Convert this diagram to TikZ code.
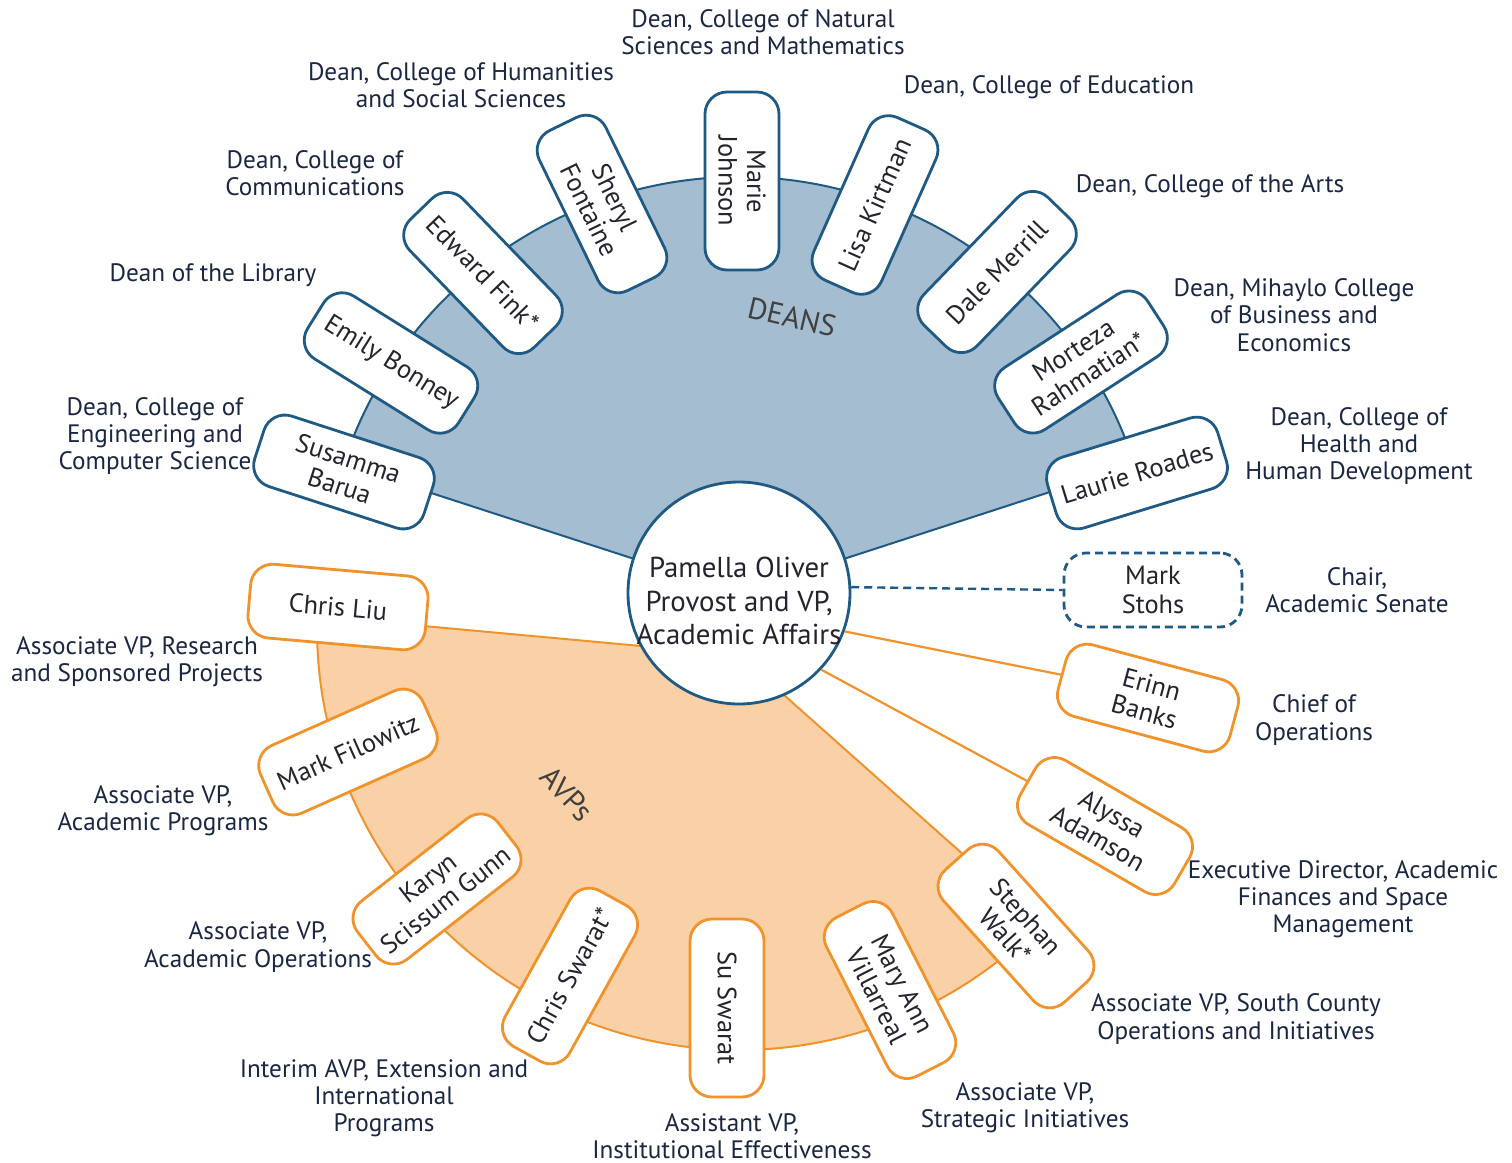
\documentclass[tikz,border=0pt]{standalone}
\usepackage{fontspec}
\setmainfont{PT Sans}
\definecolor{bstroke}{HTML}{1F5A85}
\definecolor{bfill}{HTML}{A5BDD1}
\definecolor{ostroke}{HTML}{F0932B}
\definecolor{ofill}{HTML}{FAD1A7}
\definecolor{namec}{HTML}{26222E}
\definecolor{rolec}{HTML}{1A2743}
\newcommand\nmfont{\fontsize{13.2}{14.2}\selectfont}
\newcommand\rlfont{\fontsize{12.6}{13.6}\selectfont}
\begin{document}
\begin{tikzpicture}[x=0.5pt,y=0.5pt,
  person/.style={draw, fill=white, rounded corners=11pt, minimum width=89pt,
    minimum height=37pt, align=center, line width=1.4pt, font=\nmfont,
    text=namec, inner sep=1.5pt},
  dean/.style={person, draw=bstroke},
  avp/.style={person, draw=ostroke},
  role/.style={align=center, font=\rlfont, text=rolec, inner sep=0pt},
  fanlabel/.style={font=\fontsize{15}{17}\selectfont, text=black!75},
  bluefan/.style={fill=bfill, draw=bstroke, line width=1pt},
  orangefan/.style={fill=ofill, draw=ostroke, line width=1pt},
  olink/.style={draw=ostroke, line width=1.1pt},
  blink/.style={draw=bstroke, line width=1.2pt, dash pattern=on 4pt off 2.5pt}
]
\useasboundingbox (0,0) rectangle (1512,-1163);
\fill[white] (0,0) rectangle (1512,-1163);

% fans
\coordinate (C) at (739,-593);
\coordinate (Oa) at (739,-655);
\coordinate (Oc) at (739,-628);
\filldraw[bluefan] (C) -- ++(18:416) arc[start angle=18,end angle=162,radius=416] -- cycle;
\path (Oc) ++(178.4:422) coordinate (OL);
\filldraw[orangefan] (Oa) -- (OL) arc[start angle=178.4,end angle=315.6,radius=422] -- cycle;

\node[fanlabel, rotate=-13] (deanslbl) at (792,-317) {DEANS};
\node[fanlabel, rotate=-47] (avplbl) at (567,-794) {AVPs};

% provost
\node[circle, draw=bstroke, line width=1.4pt, fill=white, minimum size=111pt,
  inner sep=0pt] (prov) at (C) {};
\node[align=center, inner sep=0pt, font=\fontsize{14.4}{16.6}\selectfont, text=namec,
  yshift=-4pt] (provtxt) at (C) {Pamella Oliver\\Provost and VP,\\Academic Affairs};

% deans
\node[dean, rotate=-18] (susamma) at (344,-472) {Susamma\\Barua};
\node[dean, rotate=-32] (emily) at (391,-363) {Emily Bonney};
\node[dean, rotate=-46] (edward) at (483,-273) {Edward Fink*};
\node[dean, rotate=-64] (sheryl) at (602,-204) {Sheryl\\Fontaine};
\node[dean, rotate=-90] (marie) at (742,-181) {Marie\\Johnson};
\node[dean, rotate=66] (lisa) at (875,-205) {Lisa Kirtman};
\node[dean, rotate=46] (dale) at (997,-272) {Dale Merrill};
\node[dean, rotate=33] (morteza) at (1081,-362) {Morteza\\Rahmatian*};
\node[dean, rotate=17] (laurie) at (1137,-473) {Laurie Roades};

% AVPs and others
\node[avp, rotate=-5] (chrisliu) at (338,-607) {Chris Liu};
\node[avp, rotate=24] (filowitz) at (348,-752) {Mark Filowitz};
\node[avp, rotate=38] (karyn) at (437,-889) {Karyn\\Scissum Gunn};
\node[avp, rotate=61] (chrissw) at (570,-976) {Chris Swarat*};
\node[avp, rotate=-90] (susw) at (727,-1008) {Su Swarat};
\node[avp, rotate=-63] (maryann) at (890,-990) {Mary Ann\\Villarreal};
\node[avp, rotate=-48] (stephan) at (1016,-926) {Stephan\\Walk*};
\node[avp, rotate=-30] (alyssa) at (1105,-826) {Alyssa\\Adamson};
\node[avp, rotate=-15] (erinn) at (1148,-698) {Erinn\\Banks};
\node[person, draw=bstroke, dash pattern=on 4pt off 2.5pt] (stohs) at (1153,-590) {Mark\\Stohs};

% connectors
\draw[olink] (prov.-20) -- (erinn.west);
\draw[olink] (prov.-43) -- (alyssa.west);
\draw[blink] (prov.3) -- (stohs.west);

% role labels
\node[role] (r1) at (763,-32) {Dean, College of Natural\\Sciences and Mathematics};
\node[role] (r2) at (461,-85) {Dean, College of Humanities\\and Social Sciences};
\node[role] (r3) at (1049,-87) {Dean, College of Education};
\node[role] (r4) at (315,-173) {Dean, College of\\Communications};
\node[role] (r5) at (213,-275) {Dean of the Library};
\node[role] (r6) at (1210,-186) {Dean, College of the Arts};
\node[role] (r7) at (1294,-315) {Dean, Mihaylo College\\of Business and\\Economics};
\node[role] (r8) at (155,-436) {Dean, College of\\Engineering and\\Computer Science};
\node[role] (r9) at (1359,-446) {Dean, College of\\Health and\\Human Development};
\node[role] (r10) at (1357,-590) {Chair,\\Academic Senate};
\node[role] (r11) at (137,-662) {Associate VP, Research\\and Sponsored Projects};
\node[role] (r12) at (1314,-720) {Chief of\\Operations};
\node[role] (r13) at (163,-811) {Associate VP,\\Academic Programs};
\node[role] (r14) at (1343,-899) {Executive Director, Academic\\Finances and Space\\Management};
\node[role] (r15) at (258,-947) {Associate VP,\\Academic Operations};
\node[role] (r16) at (1236,-1019) {Associate VP, South County\\Operations and Initiatives};
\node[role] (r17) at (384,-1098) {Interim AVP, Extension and\\International\\Programs};
\node[role] (r18) at (1025,-1108) {Associate VP,\\Strategic Initiatives};
\node[role] (r19) at (732,-1136) {Assistant VP,\\Institutional Effectiveness};
\end{tikzpicture}
\end{document}
